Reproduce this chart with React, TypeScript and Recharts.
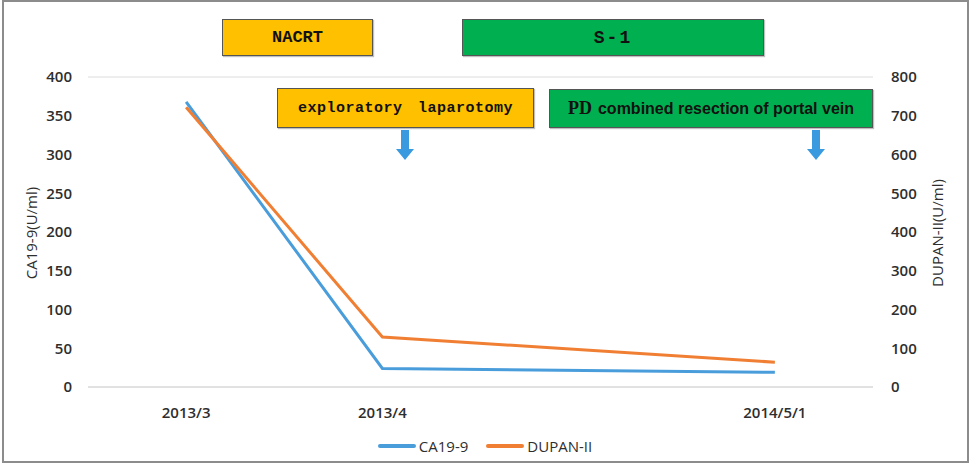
import React from "react";
import {
  LineChart,
  Line,
  XAxis,
  YAxis,
  CartesianGrid,
  Legend,
} from "recharts";

// category slots on the x axis (the third month slot has no measurement)
const categories = ["2013/3", "2013/4", "", "2014/5/1"];
const ca199 = [368, 24, null, 19];
const dupan = [722, 129, null, 64];
const leftTicks = [0, 50, 100, 150, 200, 250, 300, 350, 400];
const rightTicks = [0, 100, 200, 300, 400, 500, 600, 700, 800];
const xTicks = [0, 1, 3];

const data = categories.map((c, i) => ({
  idx: i,
  label: c,
  ca: ca199[i],
  dupan: dupan[i],
}));

const BLUE = "#4a9ddb";
const ORANGE = "#f07f33";
const YELLOW = "#ffc000";
const GREEN = "#00b050";
const TICK = { fontSize: 15, fill: "#2e2e2e", fontFamily: "Open Sans", fontWeight: 600 };

function Box({ left, top, width, height, bg, children }: any) {
  return (
    <div
      style={{
        position: "absolute",
        left,
        top,
        width,
        height,
        background: bg,
        border: "1.5px solid #555",
        boxSizing: "border-box",
        boxShadow: "1px 1px 1px rgba(0,0,0,0.25)",
        display: "flex",
        alignItems: "center",
        justifyContent: "center",
        color: "#111",
        whiteSpace: "nowrap",
      }}
    >
      {children}
    </div>
  );
}

function Arrow({ x, y }: { x: number; y: number }) {
  return (
    <svg
      width={20}
      height={32}
      style={{ position: "absolute", left: x - 10, top: y }}
    >
      <path d="M6 0 H14 V19 H19 L10 30 L1 19 H6 Z" fill="#3a9ae0" />
    </svg>
  );
}

function LegendContent(props: any) {
  const items = props.payload || [];
  return (
    <div style={{ display: "flex", justifyContent: "center", gap: 18, marginLeft: -8 }}>
      {items.map((p: any) => (
        <div key={p.value} style={{ display: "flex", alignItems: "center" }}>
          <span
            style={{
              display: "inline-block",
              width: 38,
              height: 4,
              borderRadius: 2,
              background: p.color,
              marginRight: 3,
            }}
          />
          <span style={{ fontFamily: "Open Sans", color: "#2e2e2e", fontSize: 15 }}>
            {p.value}
          </span>
        </div>
      ))}
    </div>
  );
}

const titleStyle: React.CSSProperties = {
  position: "absolute",
  top: 233,
  transform: "translate(-50%, -50%) rotate(-90deg)",
  fontFamily: "Open Sans",
  fontSize: 15,
  color: "#2e2e2e",
  whiteSpace: "nowrap",
};

export default function App() {
  return (
    <div
      style={{
        position: "absolute",
        left: 0,
        top: 0,
        width: 978,
        height: 465,
        background: "#fff",
        fontFamily: "Open Sans",
      }}
    >
      <div
        style={{
          position: "absolute",
          left: 2,
          top: 0,
          width: 967,
          height: 463,
          border: "2px solid #8c8c8c",
          boxSizing: "border-box",
        }}
      />
      <LineChart
        width={978}
        height={465}
        data={data}
        margin={{ top: 77, right: 45, bottom: 48, left: 28 }}
      >
        <CartesianGrid vertical={false} stroke="#dcdcdc" strokeWidth={1} />
        <XAxis
          dataKey="idx"
          type="number"
          domain={[-0.5, 3.5]}
          ticks={xTicks}
          tickFormatter={(v: number) => categories[v]}
          tick={TICK}
          axisLine={{ stroke: "#d6d6d6" }}
          tickLine={false}
          tickMargin={14}
          height={30}
        />
        <YAxis
          yAxisId="left"
          domain={[0, 400]}
          ticks={leftTicks}
          tick={TICK}
          axisLine={false}
          tickLine={false}
          tickSize={0}
          tickMargin={16}
          width={60}
        />
        <YAxis
          yAxisId="right"
          orientation="right"
          domain={[0, 800]}
          ticks={rightTicks}
          tick={{ ...TICK, textAnchor: "start" }}
          axisLine={false}
          tickLine={false}
          tickSize={0}
          tickMargin={18}
          width={60}
        />
        <Legend
          verticalAlign="middle"
          layout="horizontal"
          content={<LegendContent />}
          wrapperStyle={{ top: 436, left: 0, width: 978 }}
        />
        <Line
          yAxisId="left"
          dataKey="ca"
          name="CA19-9"
          stroke={BLUE}
          strokeWidth={3}
          dot={false}
          connectNulls
          isAnimationActive={false}
        />
        <Line
          yAxisId="right"
          dataKey="dupan"
          name="DUPAN-II"
          stroke={ORANGE}
          strokeWidth={3}
          dot={false}
          connectNulls
          isAnimationActive={false}
        />
      </LineChart>

      <div style={{ ...titleStyle, left: 31 }}>CA19-9(U/ml)</div>
      <div style={{ ...titleStyle, left: 937 }}>DUPAN-II(U/ml)</div>

      <Box left={222} top={19} width={151} height={37} bg={YELLOW}>
        <span style={{ fontFamily: "Liberation Mono", fontWeight: 700, fontSize: 17 }}>
          NACRT
        </span>
      </Box>
      <Box left={462} top={19} width={302} height={37} bg={GREEN}>
        <span
          style={{
            fontFamily: "Liberation Mono",
            fontWeight: 700,
            fontSize: 18,
            letterSpacing: 2,
          }}
        >
          S-1
        </span>
      </Box>
      <Box left={277} top={88} width={257} height={40} bg={YELLOW}>
        <span
          style={{
            fontFamily: "Liberation Mono",
            fontWeight: 700,
            fontSize: 15,
            wordSpacing: 6,
            letterSpacing: 0.5,
          }}
        >
          exploratory laparotomy
        </span>
      </Box>
      <Box left={549} top={89} width={324} height={39} bg={GREEN}>
        <span style={{ fontFamily: "Liberation Serif", fontWeight: 700, fontSize: 18 }}>
          PD
        </span>
        <span
          style={{
            fontFamily: "Liberation Sans",
            fontWeight: 700,
            fontSize: 16,
            marginLeft: 6,
          }}
        >
          combined resection of portal vein
        </span>
      </Box>
      <Arrow x={405} y={130} />
      <Arrow x={816} y={130} />
    </div>
  );
}
